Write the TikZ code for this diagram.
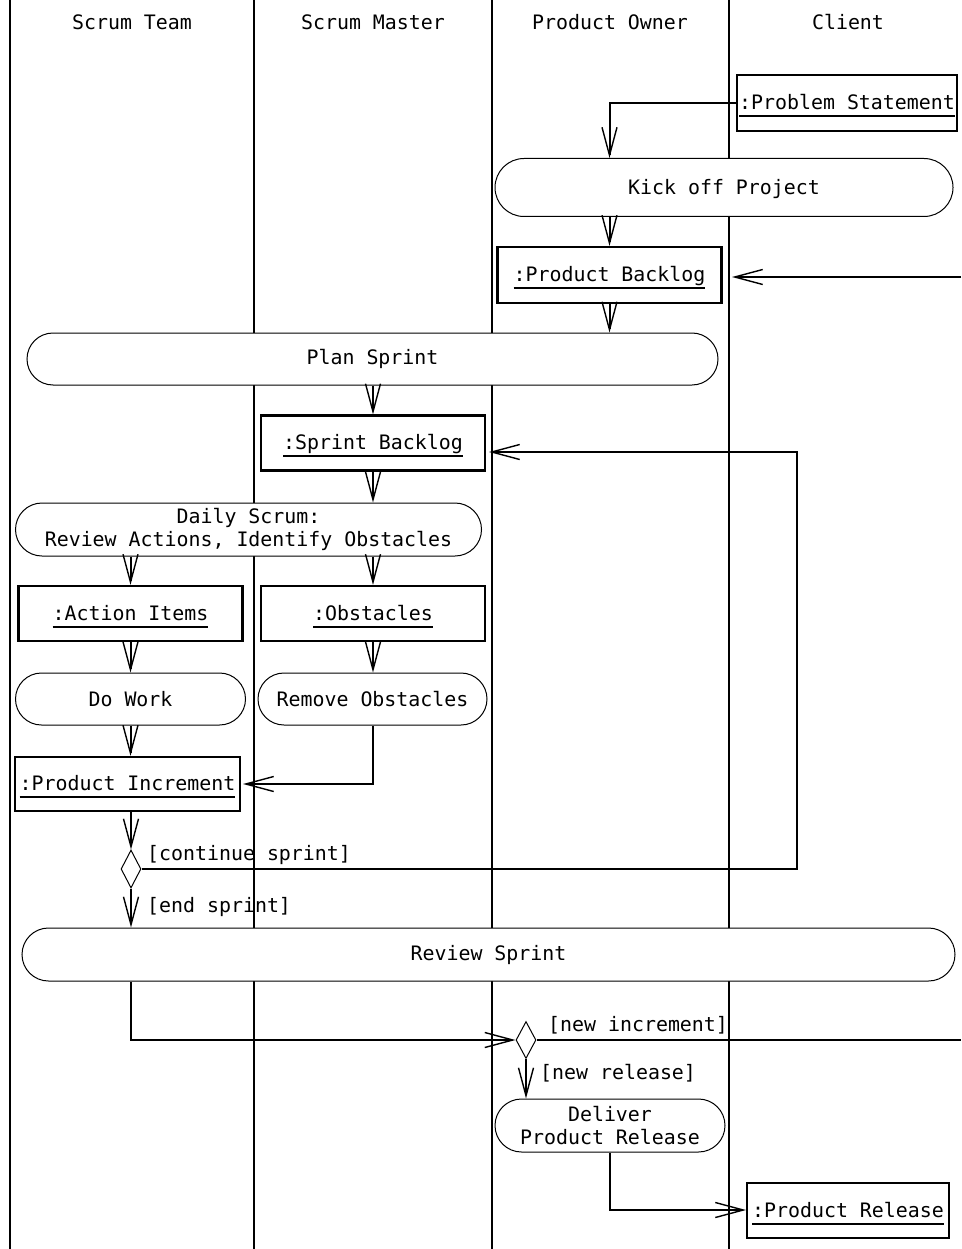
\documentclass[tikz,border=0pt]{standalone}
\usepackage{fontspec}
\setmainfont{DejaVu Sans Mono}
\usetikzlibrary{arrows.meta,shapes.misc,shapes.geometric}
\newcommand\objul[1]{\setbox0\hbox{#1}\ht0=21pt\dp0=4.6pt\vtop{\box0\kern1pt\hrule height2pt}}
\tikzset{
  every node/.style={font=\fontsize{19.9}{22.5}\selectfont},
  lane/.style={line width=2.2pt},
  activity/.style={rounded rectangle, draw, line width=1pt, fill=white, inner sep=0pt, align=center},
  objbox/.style={rectangle, draw, line width=2.2pt, fill=white, inner sep=0pt},
  decision/.style={diamond, draw, line width=1pt, fill=white, inner sep=0pt, minimum width=20pt, minimum height=38pt},
  flow/.style={line width=2pt},
  arr/.style={flow, -{Straight Barb[length=28pt,width=15pt,line width=1.4pt]}},
  guard/.style={anchor=west, inner sep=0pt},
  lanehead/.style={inner sep=0pt}
}
\begin{document}
\begin{tikzpicture}[x=1pt,y=-1pt]
\fill[white] (0,0) rectangle (961,1249);
\useasboundingbox (0,0) rectangle (961,1249);
% swimlanes
\draw[lane] (10,0) -- (10,1249);
\draw[lane] (254,0) -- (254,1249);
\draw[lane] (492,0) -- (492,1249);
\draw[lane] (729,0) -- (729,1249);
\node[lanehead] (h1) at (132,22) {Scrum Team};
\node[lanehead] (h2) at (373,22) {Scrum Master};
\node[lanehead] (h3) at (610,22) {Product Owner};
\node[lanehead] (h4) at (848,22) {Client};
% nodes
\node[objbox, minimum width=220pt, minimum height=56pt] (ps) at (847,103) {\objul{:Problem Statement}};
\node[activity, minimum width=458pt, minimum height=58pt, text height=15pt, text depth=0pt] (kick) at (724,187.5) {Kick off Project};
\node[objbox, minimum width=224pt, minimum height=56pt] (pb) at (609.5,275) {\objul{:Product Backlog}};
\node[activity, minimum width=691pt, minimum height=52pt] (plan) at (372.5,359) {Plan Sprint};
\node[objbox, minimum width=224pt, minimum height=55pt] (sb) at (373,443) {\objul{:Sprint Backlog}};
\node[activity, minimum width=466pt, minimum height=53pt] (daily) at (248.5,529.5) {Daily Scrum:\\Review Actions, Identify Obstacles};
\node[objbox, minimum width=224pt, minimum height=55pt] (ai) at (130.5,613.5) {\objul{:Action Items}};
\node[objbox, minimum width=224pt, minimum height=55pt] (obs) at (373,613.5) {\objul{:Obstacles}};
\node[activity, minimum width=230pt, minimum height=52pt] (dowork) at (130.5,699) {Do Work};
\node[activity, minimum width=229pt, minimum height=52pt] (remove) at (372.5,699) {Remove Obstacles};
\node[objbox, minimum width=225pt, minimum height=54pt] (pi) at (127.5,784) {\objul{:Product Increment}};
\node[decision] (d1) at (131,869) {};
\node[activity, minimum width=933pt, minimum height=53pt] (review) at (488.5,954.5) {Review Sprint};
\node[decision, minimum height=37pt] (d2) at (526,1040) {};
\node[activity, minimum width=230pt, minimum height=53pt] (deliver) at (610,1125.5) {Deliver\\Product Release};
\node[objbox, minimum width=202pt, minimum height=55pt] (pr) at (848,1210.5) {\objul{:Product Release}};
% guards
\node[guard] (g1) at (147,855) {[continue sprint]};
\node[guard] (g2) at (147,907) {[end sprint]};
\node[guard] (g3) at (548,1025) {[new increment]};
\node[guard] (g4) at (540,1073) {[new release]};
% helper coordinates
\coordinate (pbin) at (732,277);
\coordinate (r1) at (961,277);
\coordinate (c1) at (797,452);
\coordinate (sbin) at (489,452);
\coordinate (r2) at (961,1040);
\coordinate (piin) at (243,784);
\coordinate (prin) at (746,1210);
% connectors
\draw[arr] (ps.west) -| (pb.north |- kick.north);
\draw[arr] (pb.north |- kick.south) -- (pb.north);
\draw[arr] (r1) -- (pbin);
\draw[arr] (pb.south) -- (pb.south |- plan.north);
\draw[arr] (sb.north |- plan.south) -- (sb.north);
\draw[arr] (sb.south) -- (sb.south |- daily.north);
\draw[arr] (ai.north |- daily.south) -- (ai.north);
\draw[arr] (obs.north |- daily.south) -- (obs.north);
\draw[arr] (ai.south) -- (ai.south |- dowork.north);
\draw[arr] (obs.south) -- (obs.south |- remove.north);
\draw[arr] (dowork.south) -- (dowork.south |- pi.north);
\draw[arr] (remove.south) |- (piin);
\draw[arr] (d1.north |- pi.south) -- (d1.north);
\draw[arr] (d1.east) -| (c1) -- (sbin);
\draw[arr] (d1.south) -- (d1.south |- review.north);
\draw[arr] (d1.south |- review.south) |- (d2.west);
\draw[flow] (d2.east) -- (r2);
\draw[arr] (d2.south) -- (d2.south |- deliver.north);
\draw[arr] (deliver.south) |- (prin);
\end{tikzpicture}
\end{document}
